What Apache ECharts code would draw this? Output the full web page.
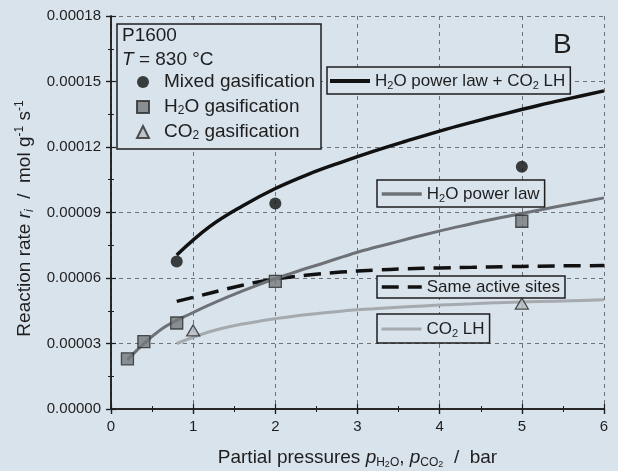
<!DOCTYPE html>
<html>
<head>
<meta charset="utf-8">
<script src="https://cdn.jsdelivr.net/npm/echarts@6/dist/echarts.min.js"></script>
<style>
  html, body { margin: 0; padding: 0; background: #d8e3ec; }
  #chart { width: 618px; height: 471px; }
</style>
</head>
<body>
<div id="chart"></div>
<script>
// Measured rates (mol g^-1 s^-1) against partial pressure (bar)
const mixedP = [0.8, 2, 5];
const mixedRate = [0.0000676, 0.0000941, 0.0001110];
const h2oP = [0.2, 0.4, 0.8, 2, 5];
const h2oRate = [0.0000230, 0.0000309, 0.0000394, 0.0000585, 0.0000860];
const co2P = [1, 5];
const co2Rate = [0.0000360, 0.0000483];

// Model curves
const mixedLawP = [0.8, 1.2, 1.6, 2.0, 2.4, 2.8, 3.2, 3.6, 4.0, 4.4, 4.8, 5.2, 5.6, 6.0];
const mixedLawRate = [0.0000705, 0.0000835, 0.0000930, 0.0001010, 0.0001075, 0.0001130, 0.0001181, 0.0001228, 0.0001273, 0.0001314, 0.0001353, 0.0001390, 0.0001424, 0.0001457];
const h2oLawP = [0.2, 0.6, 1.0, 1.4, 1.8, 2.2, 2.6, 3.0, 3.4, 3.8, 4.2, 4.6, 5.0, 5.4, 5.8, 6.0];
const h2oLawRate = [0.0000225, 0.0000362, 0.0000442, 0.0000510, 0.0000570, 0.0000622, 0.0000670, 0.0000718, 0.0000758, 0.0000797, 0.0000833, 0.0000866, 0.0000895, 0.0000925, 0.0000953, 0.0000967];
const sameSitesP = [0.8, 1.2, 1.6, 2.0, 2.4, 2.8, 3.2, 3.6, 4.0, 4.4, 4.8, 5.2, 5.6, 6.0];
const sameSitesRate = [0.0000493, 0.0000530, 0.0000567, 0.0000595, 0.0000614, 0.0000627, 0.0000636, 0.0000642, 0.0000646, 0.0000649, 0.0000652, 0.0000654, 0.0000656, 0.0000657];
const co2LawP = [0.8, 1.2, 1.6, 2.0, 2.4, 2.8, 3.2, 3.6, 4.0, 4.4, 4.8, 5.2, 5.6, 6.0];
const co2LawRate = [0.0000300, 0.0000354, 0.0000389, 0.0000414, 0.0000433, 0.0000448, 0.0000459, 0.0000468, 0.0000476, 0.0000482, 0.0000488, 0.0000492, 0.0000496, 0.0000500];

// Axis ranges
const xMin = 0, xMax = 6, xStep = 1;
const yMin = 0, yMax = 0.00018, yStep = 0.00003;

const pairs = (xs, ys) => xs.map((x, i) => [x, ys[i]]);

const FONT = '"Liberation Sans", Arial, sans-serif';
const INK = '#1e1e1e';
const BG = '#d8e3ec';

// Rich-text labels with sub/superscripts
const labelText = {
  'Mixed gasification': 'Mixed gasification',
  'H2O gasification': 'H{sub|2}O gasification',
  'CO2 gasification': 'CO{sub|2} gasification',
  'H2O power law + CO2 LH': 'H{sub|2}O power law + CO{sub|2} LH',
  'H2O power law': 'H{sub|2}O power law',
  'Same active sites': 'Same active sites',
  'CO2 LH': 'CO{sub|2} LH'
};

function richStyle(size) {
  return {
    fontFamily: FONT, fontSize: size, color: INK, lineHeight: 20,
    rich: {
      sub: { fontFamily: FONT, fontSize: Math.round(size * 0.65), color: INK, lineHeight: 10, verticalAlign: 'bottom' }
    }
  };
}

// Boxed key for a single model curve (line sample only, no marker)
function boxLegend(name, left, top, padding, lineWidth) {
  return {
    data: [name],
    left: left, top: top,
    orient: 'horizontal',
    selectedMode: false,
    backgroundColor: BG,
    borderColor: INK, borderWidth: 1.5, borderRadius: 0,
    padding: padding,
    itemWidth: 40, itemHeight: 14,
    itemStyle: { color: 'rgba(0,0,0,0)', borderWidth: 0, opacity: 0 },
    lineStyle: { width: lineWidth },
    formatter: n => labelText[n],
    textStyle: richStyle(17)
  };
}

function baseAxis(type) {
  return {
    type: 'value',
    min: type === 'x' ? xMin : yMin,
    max: type === 'x' ? xMax : yMax,
    interval: type === 'x' ? xStep : yStep
  };
}

const chart = echarts.init(document.getElementById('chart'), null, { renderer: 'canvas' });

chart.setOption({
  backgroundColor: BG,
  animation: false,
  title: {
    text: 'B', left: 548, top: 26,
    textStyle: { fontFamily: FONT, fontSize: 28, fontWeight: 'normal', color: INK }
  },
  grid: { left: 111, right: 14, top: 16, bottom: 62, containLabel: false, outerBoundsMode: 'none' },
  xAxis: [
    Object.assign(baseAxis('x'), {
      position: 'bottom',
      name: '{t|Partial pressures }{i|p}{s|H}{ss|2}{s|O}{t|, }{i|p}{s|CO}{ss|2}{t|  /  bar}',
      nameLocation: 'middle', nameGap: 38,
      nameTextStyle: {
        fontFamily: FONT, fontSize: 19, color: INK,
        rich: {
          t: { fontFamily: FONT, fontSize: 19, color: INK, lineHeight: 22 },
          i: { fontFamily: FONT, fontSize: 19, fontStyle: 'italic', color: INK, lineHeight: 22 },
          s: { fontFamily: FONT, fontSize: 12, color: INK, lineHeight: 10, verticalAlign: 'bottom' },
          ss: { fontFamily: FONT, fontSize: 9, color: INK, lineHeight: 6, verticalAlign: 'bottom' }
        }
      },
      axisLine: { show: true, lineStyle: { color: INK, width: 1.5 } },
      axisTick: { show: true, inside: false, length: 5, lineStyle: { color: INK, width: 1.2 } },
      axisLabel: { fontFamily: FONT, fontSize: 15, color: INK, margin: 10 },
      splitLine: { show: true, lineStyle: { color: '#6d7175', width: 1, type: [4, 4] } }
    }),
    Object.assign(baseAxis('x'), {
      position: 'bottom',
      axisLine: { show: false },
      axisTick: { show: true, inside: true, length: 5, lineStyle: { color: INK, width: 1.2 } },
      minorTick: { show: true, splitNumber: 2, length: 3, lineStyle: { color: INK, width: 1 } },
      axisLabel: { show: false },
      splitLine: { show: false }
    }),
    Object.assign(baseAxis('x'), {
      position: 'top',
      axisLine: { show: true, lineStyle: { color: INK, width: 1.5 } },
      axisTick: { show: true, inside: true, length: 5, lineStyle: { color: INK, width: 1.2 } },
      minorTick: { show: true, splitNumber: 2, length: 3, lineStyle: { color: INK, width: 1 } },
      axisLabel: { show: false },
      splitLine: { show: false }
    })
  ],
  yAxis: [
    Object.assign(baseAxis('y'), {
      position: 'left',
      name: '{t|Reaction rate }{i|r}{s|i}{t|  /  mol g}{p|-1}{t| s}{p|-1}',
      nameLocation: 'middle', nameGap: 72, nameRotate: 90,
      nameTextStyle: {
        fontFamily: FONT, fontSize: 19, color: INK,
        padding: [0, 12, 0, 0],
        rich: {
          t: { fontFamily: FONT, fontSize: 19, color: INK, lineHeight: 22 },
          i: { fontFamily: FONT, fontSize: 19, fontStyle: 'italic', color: INK, lineHeight: 22 },
          s: { fontFamily: FONT, fontSize: 12, fontStyle: 'italic', color: INK, lineHeight: 10, verticalAlign: 'bottom' },
          p: { fontFamily: FONT, fontSize: 12, color: INK, lineHeight: 10, verticalAlign: 'top' }
        }
      },
      axisLine: { show: true, lineStyle: { color: INK, width: 1.5 } },
      axisTick: { show: true, inside: false, length: 5, lineStyle: { color: INK, width: 1.2 } },
      axisLabel: { fontFamily: FONT, fontSize: 15, color: INK, margin: 10, formatter: v => v.toFixed(5) },
      splitLine: { show: true, lineStyle: { color: '#6d7175', width: 1, type: [4, 4] } }
    }),
    Object.assign(baseAxis('y'), {
      position: 'left',
      axisLine: { show: false },
      axisTick: { show: true, inside: true, length: 5, lineStyle: { color: INK, width: 1.2 } },
      minorTick: { show: true, splitNumber: 2, length: 3, lineStyle: { color: INK, width: 1 } },
      axisLabel: { show: false },
      splitLine: { show: false }
    }),
    Object.assign(baseAxis('y'), {
      position: 'right',
      axisLine: { show: true, lineStyle: { color: INK, width: 1.5 } },
      axisTick: { show: true, inside: true, length: 5, lineStyle: { color: INK, width: 1.2 } },
      minorTick: { show: true, splitNumber: 2, length: 3, lineStyle: { color: INK, width: 1 } },
      axisLabel: { show: false },
      splitLine: { show: false }
    })
  ],
  legend: [
    {
      data: ['Mixed gasification', 'H2O gasification', 'CO2 gasification'],
      left: 117, top: 24,
      orient: 'vertical',
      selectedMode: false,
      backgroundColor: BG,
      borderColor: INK, borderWidth: 1.5, borderRadius: 0,
      padding: [48, 6, 7, 19],
      itemWidth: 12, itemHeight: 12, itemGap: 5,
      formatter: n => labelText[n],
      textStyle: Object.assign(richStyle(19), { padding: [0, 0, 0, 10] })
    },
    boxLegend('H2O power law + CO2 LH', 327, 67, [4, 5, 3, 1], 4),
    boxLegend('H2O power law', 377, 180, [4, 5, 3, 3], 3.5),
    boxLegend('Same active sites', 377, 276, [1, 5, 1, 3], 3.5),
    boxLegend('CO2 LH', 377, 314, [5, 5, 4, 3], 3)
  ],
  graphic: [
    {
      type: 'text', left: 122, top: 26, z: 100,
      style: { text: 'P1600', font: '19px ' + FONT, fill: INK }
    },
    {
      type: 'text', left: 122, top: 50, z: 100,
      style: {
        text: '{i|T} = 830 °C',
        font: '19px ' + FONT, fill: INK,
        rich: { i: { fontStyle: 'italic', fontSize: 19, fontFamily: FONT, fill: INK } }
      }
    }
  ],
  series: [
    {
      name: 'CO2 LH', type: 'line', data: pairs(co2LawP, co2LawRate),
      smooth: 0.4, symbol: 'none', z: 2,
      lineStyle: { color: '#a5aaae', width: 3 }, itemStyle: { color: '#a5aaae' }
    },
    {
      name: 'Same active sites', type: 'line', data: pairs(sameSitesP, sameSitesRate),
      smooth: 0.4, symbol: 'none', z: 2,
      lineStyle: { color: '#111', width: 3.5, type: [17, 9] }, itemStyle: { color: '#111' }
    },
    {
      name: 'H2O power law', type: 'line', data: pairs(h2oLawP, h2oLawRate),
      smooth: 0.4, symbol: 'none', z: 2,
      lineStyle: { color: '#6e7276', width: 3 }, itemStyle: { color: '#6e7276' }
    },
    {
      name: 'H2O power law + CO2 LH', type: 'line', data: pairs(mixedLawP, mixedLawRate),
      smooth: 0.4, symbol: 'none', z: 2,
      lineStyle: { color: '#111', width: 3.5 }, itemStyle: { color: '#111' }
    },
    {
      name: 'Mixed gasification', type: 'scatter', data: pairs(mixedP, mixedRate),
      symbol: 'circle', symbolSize: 12, z: 5,
      itemStyle: { color: '#111', borderColor: '#111', borderWidth: 0 }
    },
    {
      name: 'H2O gasification', type: 'scatter', data: pairs(h2oP, h2oRate),
      symbol: 'rect', symbolSize: 12, z: 5,
      itemStyle: { color: '#74787c', borderColor: '#2a2a2a', borderWidth: 1.3 }
    },
    {
      name: 'CO2 gasification', type: 'scatter', data: pairs(co2P, co2Rate),
      symbol: 'triangle', symbolSize: [13, 11], z: 5,
      itemStyle: { color: '#b7bcc1', borderColor: '#2a2a2a', borderWidth: 1.3 }
    }
  ]
});
</script>
</body>
</html>
